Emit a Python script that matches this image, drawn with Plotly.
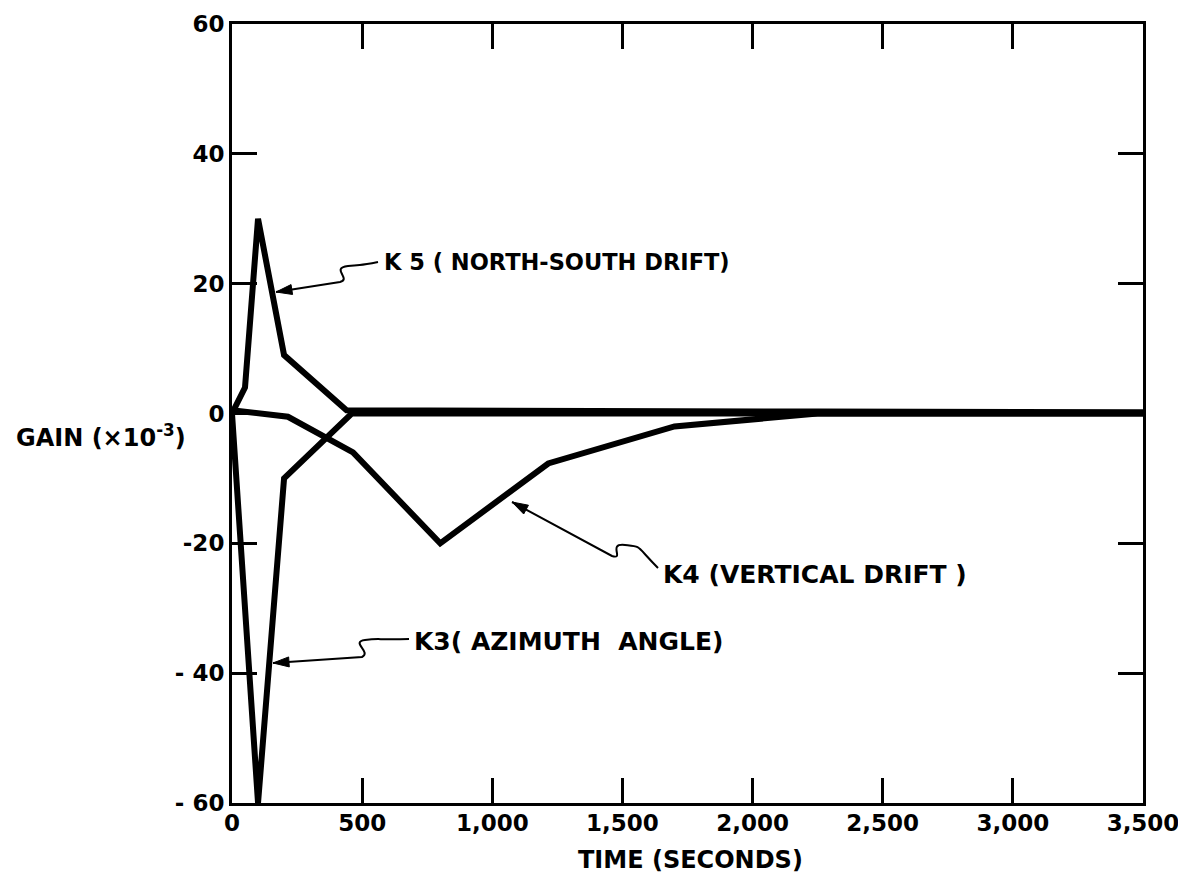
import math
import plotly.graph_objects as go

# ---- data ----
k5_t = [0, 50, 100, 200, 440, 1000, 2250, 3500]
k5_v = [0, 4, 30, 9, 0.5, 0.4, 0.3, 0.2]

k3_t = [0, 100, 200, 460, 1000, 2250, 3500]
k3_v = [0, -60, -10, 0, 0, 0, 0]

k4_t = [0, 215, 465, 800, 1215, 1700, 2250, 3500]
k4_v = [0.5, -0.5, -6, -20, -7.7, -2, 0, 0]

x_ticks = [0, 500, 1000, 1500, 2000, 2500, 3000, 3500]
x_ticktext = ["0", "500", "1,000", "1,500", "2,000", "2,500", "3,000", "3,500"]
y_ticks = [-60, -40, -20, 0, 20, 40, 60]
y_ticktext = ["- 60", "- 40", "-20", "0", "20", "40", "60"]

# ---- layout geometry (page pixels; the page body adds an 8px offset) ----
OFF = 8
W, H = 1186 - OFF, 884 - OFF
PL, PR, PT, PB = 232, 1143, 24, 803          # plot box in page pixels
L, R, T, B = PL - OFF, (W + OFF) - PR, PT - OFF, (H + OFF) - PB
PW, PH = PR - PL, PB - PT
XMIN, XMAX, YMIN, YMAX = 0, 3500, -60, 60


def dx(px):
    return (px - PL) / PW * (XMAX - XMIN) + XMIN


def dy(py):
    return (PB - py) / PH * (YMAX - YMIN) + YMIN


FONT = "DejaVu Sans"
fig = go.Figure()
for t, v in [(k5_t, k5_v), (k3_t, k3_v), (k4_t, k4_v)]:
    fig.add_trace(go.Scatter(x=t, y=v, mode="lines",
                             line=dict(color="black", width=6),
                             showlegend=False, hoverinfo="skip"))

annotations = []
shapes = []

labels = [
    ("K 5 ( NORTH-SOUTH DRIFT)", 382, 262, 22.5),
    ("K4 (VERTICAL DRIFT )", 661, 574, 25),
    ("K3( AZIMUTH  ANGLE)", 412, 641, 25),
]
for txt, px, py, fs in labels:
    annotations.append(dict(x=dx(px), y=dy(py), xref="x", yref="y", text=txt,
                            showarrow=False, xanchor="left", yanchor="middle",
                            font=dict(family=FONT, size=fs, color="black", weight="bold")))

# leader lines: tip, then squiggle points (page pixels)
leaders = [
    ((276, 292), [(340, 282), (352, 279), (330, 268), (348, 266), (378, 262)]),
    ((512, 502), [(612, 556), (625, 560), (607, 543), (625, 545), (658, 568)]),
    ((273, 663), [(362, 657), (372, 652), (350, 642), (365, 640), (409, 639)]),
]
for tip, p in leaders:
    path = "M {},{} L {},{} C {},{} {},{} {},{} S {},{} {},{}".format(
        dx(tip[0]), dy(tip[1]),
        dx(p[0][0]), dy(p[0][1]), dx(p[1][0]), dy(p[1][1]), dx(p[2][0]), dy(p[2][1]),
        dx(p[3][0]), dy(p[3][1]), dx(p[3][0] + 10), dy(p[3][1]), dx(p[4][0]), dy(p[4][1]))
    shapes.append(dict(type="path", path=path, xref="x", yref="y",
                       line=dict(color="black", width=2)))
    # arrowhead triangle
    ux, uy = p[0][0] - tip[0], p[0][1] - tip[1]
    n = math.hypot(ux, uy)
    ux, uy = ux / n, uy / n
    hl, hw = 16, 5
    bx, by = tip[0] + ux * hl, tip[1] + uy * hl
    a = (bx - uy * hw, by + ux * hw)
    b = (bx + uy * hw, by - ux * hw)
    tri = "M {},{} L {},{} L {},{} Z".format(dx(tip[0]), dy(tip[1]), dx(a[0]), dy(a[1]),
                                             dx(b[0]), dy(b[1]))
    shapes.append(dict(type="path", path=tri, xref="x", yref="y", fillcolor="black",
                       line=dict(color="black", width=1)))

# axis titles
annotations.append(dict(x=-(PL - 14) / PW, y=(PB - 436) / PH, xref="paper", yref="paper",
                        text="GAIN (\u00d710<sup>-3</sup>)", showarrow=False,
                        xanchor="left", yanchor="middle",
                        font=dict(family=FONT, size=24, color="black", weight="bold")))
annotations.append(dict(x=(690 - PL) / PW, y=-(860 - PB) / PH, xref="paper", yref="paper",
                        text="TIME (SECONDS)", showarrow=False,
                        xanchor="center", yanchor="middle",
                        font=dict(family=FONT, size=24, color="black", weight="bold")))

axis_common = dict(showgrid=False, zeroline=False, showline=True, linecolor="black",
                   linewidth=3, mirror="ticks", ticks="inside", ticklen=25,
                   tickwidth=2.5, tickcolor="black", ticklabeloverflow="allow",
                   tickfont=dict(family=FONT, size=23, color="black", weight="bold"))

fig.update_layout(
    width=W, height=H,
    margin=dict(l=L, r=R, t=T, b=B, autoexpand=False),
    paper_bgcolor="white", plot_bgcolor="white",
    xaxis=dict(range=[XMIN, XMAX], tickvals=x_ticks, ticktext=x_ticktext,
               ticklabelstandoff=-3, **axis_common),
    yaxis=dict(range=[YMIN, YMAX], tickvals=y_ticks, ticktext=y_ticktext, **axis_common),
    annotations=annotations, shapes=shapes,
)

fig.write_html("out.html")
